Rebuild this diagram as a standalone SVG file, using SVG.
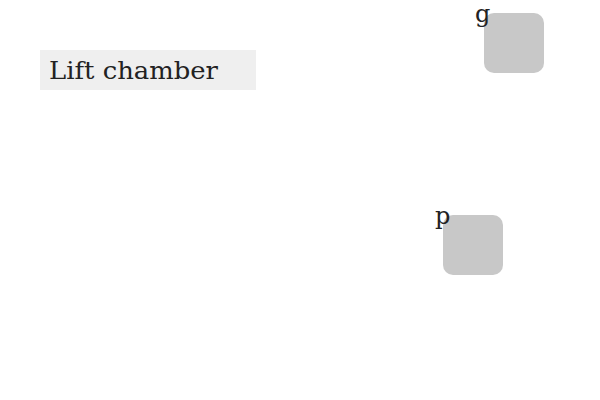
<svg xmlns="http://www.w3.org/2000/svg" width="600" height="400" viewBox="0 0 600 400">
<style>
.node{fill:#c8c8c8}
.lbl{font-family:"DejaVu Serif","Liberation Serif",serif;font-size:24px;fill:#222}
</style>
<rect width="600" height="400" fill="#fff"/>
<g id="title">
<rect x="40" y="50" width="216" height="40" fill="#efefef"/>
<text class="lbl" x="49" y="79" textLength="169" lengthAdjust="spacingAndGlyphs">Lift chamber</text>
</g>
<g id="node-g">
<rect class="node" x="484" y="13" width="60" height="60" rx="10"/>
<text class="lbl" x="475" y="22">g</text>
</g>
<g id="node-p">
<rect class="node" x="443" y="215" width="60" height="60" rx="10"/>
<text class="lbl" x="435" y="224">p</text>
</g>
<g id="connectors"></g>
</svg>
